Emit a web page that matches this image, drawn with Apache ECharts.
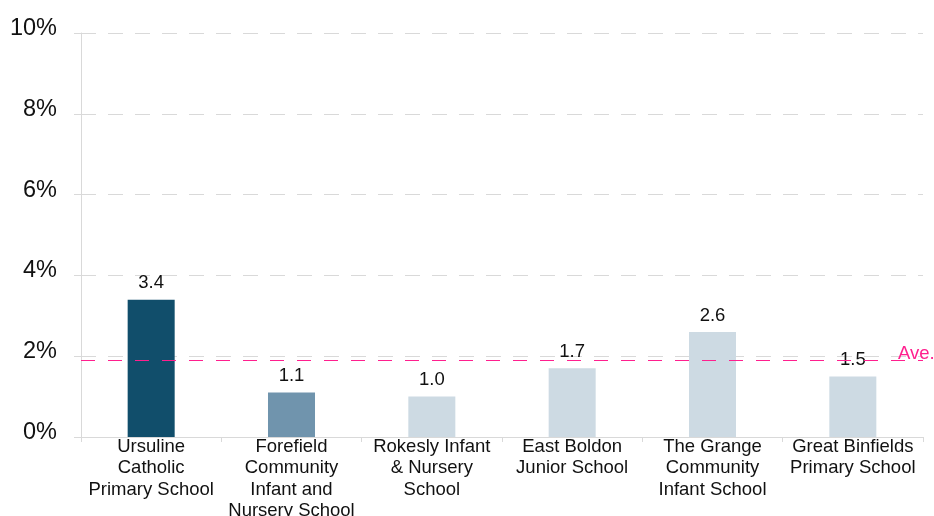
<!DOCTYPE html>
<html>
<head>
<meta charset="utf-8">
<script src="https://cdn.jsdelivr.net/npm/echarts@6/dist/echarts.min.js"></script>
<style>html,body{margin:0;padding:0;background:#fff;}#c{width:934px;height:516px;}</style>
</head>
<body>
<div id="c"></div>
<script>
const categories = [
  "Ursuline\nCatholic\nPrimary School",
  "Forefield\nCommunity\nInfant and\nNursery School",
  "Rokesly Infant\n& Nursery\nSchool",
  "East Boldon\nJunior School",
  "The Grange\nCommunity\nInfant School",
  "Great Binfields\nPrimary School"
];
const values = [3.4, 1.1, 1.0, 1.7, 2.6, 1.5];
const barColors = ["#114e6b", "#7094ad", "#cddae3", "#cddae3", "#cddae3", "#cddae3"];
const averageValue = 1.9;
const averageLabel = "Ave.";
const yTicks = { min: 0, max: 10, interval: 2 };

const chart = echarts.init(document.getElementById('c'), null, { renderer: 'canvas' });
const font = 'Liberation Sans, Arial, sans-serif';
const pink = '#ff1f8e';
chart.setOption({
  animation: false,
  textStyle: { fontFamily: font },
  grid: { left: 81, right: 11, top: 33, bottom: 79, containLabel: false, outerBoundsMode: 'none' },
  xAxis: {
    type: 'category',
    data: categories,
    axisLine: { lineStyle: { color: '#d9d9d9', width: 1 } },
    axisTick: { show: true, length: 5, lineStyle: { color: '#d9d9d9' } },
    axisLabel: { color: '#111', fontSize: 18.5, lineHeight: 21.5, margin: -1, fontFamily: font, interval: 0 }
  },
  yAxis: {
    type: 'value',
    min: yTicks.min, max: yTicks.max, interval: yTicks.interval,
    axisLine: { show: true, lineStyle: { color: '#d9d9d9', width: 1 } },
    axisTick: { show: true, length: 7, lineStyle: { color: '#d9d9d9' } },
    axisLabel: { color: '#111', fontSize: 23.5, margin: 24, formatter: '{value}%', fontFamily: font, verticalAlign: 'bottom', lineHeight: 9 },
    splitLine: { show: true, lineStyle: { color: '#d9d9d9', type: [15, 12], width: 1 } }
  },
  series: [{
    type: 'bar',
    data: values.map((v, i) => ({ value: v, itemStyle: { color: barColors[i] } })),
    barWidth: '33.5%',
    label: {
      show: true, position: 'top', distance: 7, color: '#111', fontSize: 18.5, fontFamily: font,
      formatter: p => p.value.toFixed(1)
    },
    markLine: {
      silent: true,
      symbol: ['none', 'none'],
      itemStyle: { color: pink },
      lineStyle: { color: pink, type: [14, 13], width: 1, opacity: 1 },
      emphasis: { disabled: true },
      label: { show: true, position: 'end', formatter: averageLabel, color: pink, fontSize: 18.5, fontFamily: font, distance: [-25, 0], verticalAlign: 'bottom', lineHeight: 12 },
      data: [{ yAxis: averageValue, itemStyle: { color: pink }, lineStyle: { color: pink, type: [14, 13], width: 1 } }]
    }
  }]
});
</script>
</body>
</html>
